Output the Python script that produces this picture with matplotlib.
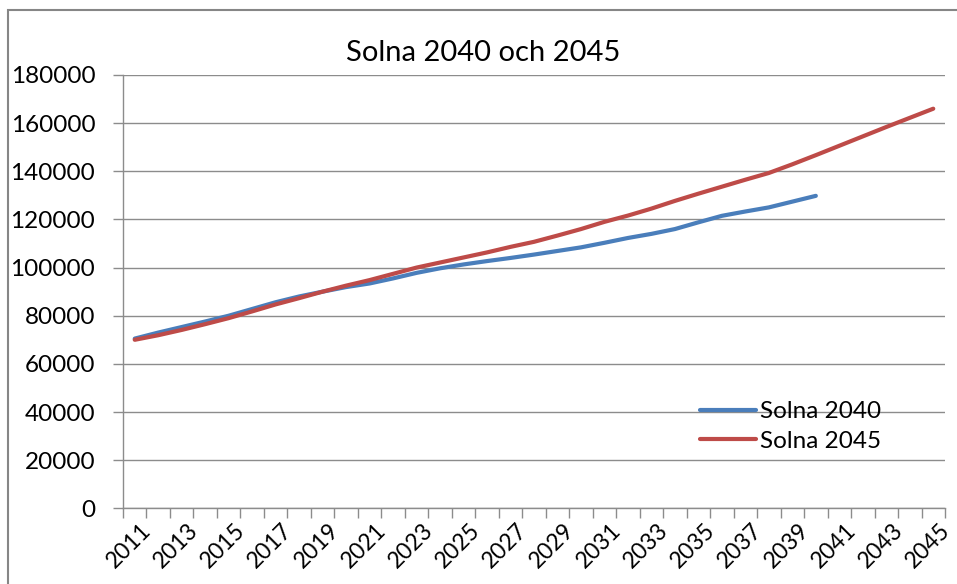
import matplotlib
matplotlib.use("Agg")
import matplotlib.pyplot as plt
import matplotlib.transforms as mtransforms
from matplotlib.patches import Rectangle

years = list(range(2011, 2046))
solna_2040 = [70500, 73000, 75300, 77600, 80000, 82800, 85600, 88000, 90000, 91900,
              93400, 95500, 97800, 99700, 101300, 102700, 104000, 105400, 106900, 108400,
              110300, 112300, 114000, 116000, 118800, 121500, 123300, 125000, 127400, 129800]
solna_2045 = [70000, 71900, 74100, 76500, 79000, 81800, 84700, 87300, 90000, 92500,
              94800, 97400, 100000, 102100, 104200, 106300, 108600, 110700, 113300, 116000,
              119000, 121600, 124500, 127700, 130700, 133600, 136500, 139300, 142900, 146700,
              150600, 154500, 158400, 162200, 166000]
yticks = list(range(0, 180001, 20000))
xlabels = [str(y) for y in years[::2]]

W, H = 957, 584
fig = plt.figure(figsize=(W / 100, H / 100), dpi=100)
plt.rcParams['font.family'] = ['Lato', 'DejaVu Sans']

# outer chart border (top and left visible)
fig.patches.append(Rectangle((8 / W, -0.1), 1.2, (H - 10) / H + 0.1, transform=fig.transFigure,
                             fill=False, edgecolor='#868686', linewidth=1.5))

ax = fig.add_axes([123 / W, 1 - 508.3 / H, (945 - 123) / W, (508.3 - 75) / H])

n = len(years)
xs_2040 = list(range(len(solna_2040)))
xs_2045 = list(range(len(solna_2045)))
ax.plot(xs_2040, solna_2040, color='#4A7EBB', linewidth=3, solid_capstyle='round', label='Solna 2040')
ax.plot(xs_2045, solna_2045, color='#BE4B48', linewidth=3, solid_capstyle='round', label='Solna 2045')

ax.set_xlim(-0.5, n - 0.5)
ax.set_ylim(0, 180000)
ax.set_yticks(yticks)
ax.set_yticklabels([str(v) for v in yticks], fontsize=17.5)
ax.grid(axis='y', color='#8c8c8c', linewidth=1)
ax.set_axisbelow(True)

# minor ticks at category boundaries, major (invisible) at label positions
ax.set_xticks([i - 0.5 for i in range(n + 1)], minor=True)
ax.set_xticks(list(range(0, n, 2)))
ax.set_xticklabels(xlabels, fontsize=16.5, rotation=45, ha='right', va='center',
                   rotation_mode='anchor')
ax.tick_params(axis='x', which='major', length=0, pad=0)
ax.tick_params(axis='x', which='minor', length=7, color='#8c8c8c', width=1)
ax.tick_params(axis='y', length=7, color='#8c8c8c', width=1, pad=13)
offset = mtransforms.ScaledTranslation(13 / 100, -19 / 100, fig.dpi_scale_trans)
for lbl in ax.get_xticklabels():
    lbl.set_transform(lbl.get_transform() + offset)

for s in ['top', 'right']:
    ax.spines[s].set_visible(False)
for s in ['left', 'bottom']:
    ax.spines[s].set_color('#8c8c8c')
    ax.spines[s].set_linewidth(1)

fig.text(483 / W, 1 - 61 / H, 'Solna 2040 och 2045', fontsize=21, ha='center', va='baseline')

leg = ax.legend(loc='upper left', bbox_to_anchor=((700 - 123) / (945 - 123), 1 - (401 - 75) / (508.3 - 75)),
                frameon=False, fontsize=17.5, handlelength=2.3, handletextpad=0.15,
                labelspacing=0.35, borderpad=0, borderaxespad=0)

fig.savefig('out.png', dpi=100)
